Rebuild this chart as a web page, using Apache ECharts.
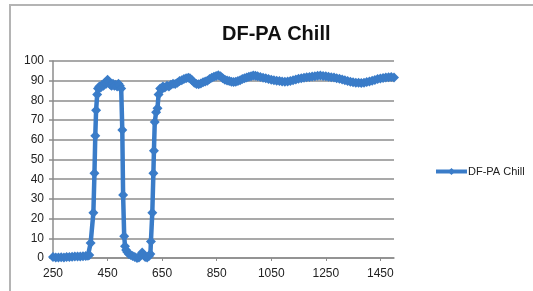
<!DOCTYPE html>
<html>
<head>
<meta charset="utf-8">
<script src="https://cdn.jsdelivr.net/npm/echarts@6/dist/echarts.min.js"></script>
<style>
  html, body { margin: 0; padding: 0; background: #fff; }
  #chart { width: 533px; height: 291px; }
</style>
</head>
<body>
<div id="chart"></div>
<script>
// values
var seriesName = 'DF-PA Chill';
var xTicks = [250, 450, 650, 850, 1050, 1250, 1450];

var xs = [250, 260, 270, 280, 290, 300, 310, 320, 330, 340, 350, 360, 370, 378, 383,
  388, 398, 402, 405, 408, 412, 415, 420, 425, 430, 435, 440, 445, 450, 455, 460, 465, 470, 475, 480, 485, 490, 495, 500,
  504, 507, 511, 514, 518, 522, 528, 535, 542, 550, 558, 565, 572, 577, 582, 588, 595, 602, 607,
  609, 614, 618, 620, 623, 628, 633, 637, 643, 648, 653, 660, 668, 675, 682, 690, 698, 706, 714, 722, 730, 738, 746, 752,
  760, 768, 776, 784, 792, 800, 808, 816, 824, 832, 840, 848, 856, 864, 872, 880, 888, 896, 904, 912, 920, 928, 936, 944,
  952, 960, 968, 976, 984, 992, 1000, 1010, 1020, 1030, 1040, 1050, 1060, 1070, 1080, 1090, 1100, 1110, 1120, 1130, 1140,
  1150, 1160, 1170, 1180, 1190, 1200, 1210, 1220, 1230, 1240, 1250, 1260, 1270, 1280, 1290, 1300, 1310, 1320, 1330, 1340,
  1350, 1360, 1370, 1380, 1390, 1400, 1410, 1420, 1430, 1440, 1450, 1460, 1470, 1480, 1490, 1500];

var ys = [0.5, 0.3, 0.3, 0.4, 0.3, 0.5, 0.5, 0.6, 0.7, 0.8, 0.8, 0.9, 1, 1.2, 1.5,
  7.6, 23, 43, 62, 75, 83, 86, 87, 86.5, 88, 87.5, 89, 88.5, 90.5, 89.5, 88, 87.5, 88.5, 87.5, 88, 87, 88.5, 87.5, 86,
  65, 32, 11, 6, 4, 3, 2, 1.5, 1, 0.5, 0, 0.2, 1.5, 2.8, 1.5, 0.5, 0.3, 1, 2,
  8.4, 23, 43, 54.5, 69, 74, 76, 83, 86, 85.5, 87, 86.5, 87.5, 87, 88, 88.5, 88.3, 89, 89.8, 90.2, 90.8, 91.2, 91.5, 91.3,
  90.2, 89, 88.3, 88.2, 88.6, 89.2, 89.6, 90, 90.8, 91.5, 92, 92.4, 92.8, 92.3, 91.2, 90.5, 90.1, 89.8, 89.5, 89.4, 89.5, 89.8, 90.2, 90.8,
  91.3, 91.6, 92, 92.3, 92.6, 92.5, 92.2, 91.9, 91.5, 91.2, 90.8, 90.5, 90.2, 90, 89.8, 89.6, 89.5, 89.6, 89.8, 90.2, 90.6,
  91, 91.3, 91.5, 91.7, 91.9, 92.1, 92.3, 92.5, 92.6, 92.4, 92.2, 92, 91.8, 91.6, 91.3, 91, 90.6, 90.2, 89.8, 89.5,
  89.2, 89, 88.9, 88.8, 89, 89.3, 89.6, 90, 90.4, 90.8, 91.1, 91.4, 91.6, 91.7, 91.9, 91.6];

var points = xs.map(function (x, i) { return [x, ys[i]]; });

var chart = echarts.init(document.getElementById('chart'));
chart.setOption({
  animation: false,
  title: {
    text: seriesName,
    left: 217,
    top: 19,
    textStyle: { fontFamily: 'Liberation Sans', fontSize: 20, fontWeight: 'bold', color: '#111' }
  },
  legend: {
    left: 429,
    top: 161,
    itemWidth: 31,
    itemHeight: 9,
    lineStyle: { width: 4 },
    textStyle: { fontFamily: 'Liberation Sans', fontSize: 11, color: '#222', padding: [0, 0, 0, -4] },
    data: [seriesName]
  },
  grid: { left: 53, right: 139, top: 61, bottom: 33 },
  xAxis: {
    type: 'value',
    min: 250,
    max: 1500,
    interval: 200,
    axisLine: { lineStyle: { color: '#8c8c8c', width: 1.5 } },
    axisTick: { show: true, length: 3, lineStyle: { color: '#8c8c8c' } },
    axisLabel: {
      showMaxLabel: false,
      margin: 10,
      fontFamily: 'Liberation Sans', fontSize: 12, color: '#222',
      formatter: function (v) { return xTicks.indexOf(v) >= 0 ? String(v) : ''; }
    },
    splitLine: { show: false }
  },
  yAxis: {
    type: 'value',
    min: 0,
    max: 100,
    interval: 10,
    axisLine: { show: true, lineStyle: { color: '#8c8c8c', width: 1.5 } },
    axisTick: { show: true, length: 4, lineStyle: { color: '#8c8c8c', width: 1.5 } },
    axisLabel: { margin: 9, fontFamily: 'Liberation Sans', fontSize: 12, color: '#222' },
    splitLine: { show: true, lineStyle: { color: '#8c8c8c', width: 1.5 } }
  },
  series: [{
    name: seriesName,
    type: 'line',
    data: points,
    symbol: 'diamond',
    symbolSize: 10,
    showAllSymbol: true,
    lineStyle: { color: '#3a7cc8', width: 4.5 },
    itemStyle: { color: '#3a7cc8', borderWidth: 0 }
  }],
  graphic: [{
    type: 'rect',
    shape: { x: 10, y: 5, width: 540, height: 300 },
    style: { fill: 'none', stroke: '#b4b4b4', lineWidth: 2 },
    silent: true
  }]
});
</script>
</body>
</html>
